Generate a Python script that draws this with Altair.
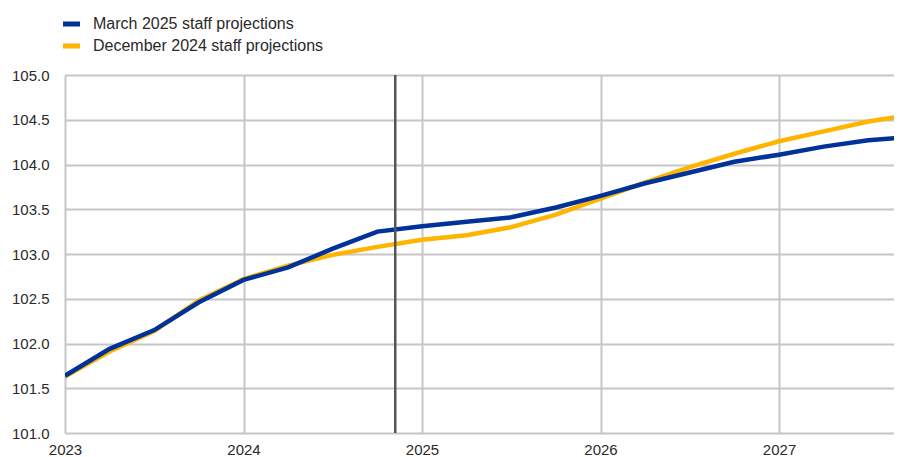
import altair as alt
import pandas as pd

# Quarterly time points (decimal years)
quarters = [2023.00, 2023.25, 2023.50, 2023.75,
            2024.00, 2024.25, 2024.50, 2024.75,
            2025.00, 2025.25, 2025.50, 2025.75,
            2026.00, 2026.25, 2026.50, 2026.75,
            2027.00, 2027.25, 2027.50, 2027.75]

march_2025 = [101.64, 101.94, 102.15, 102.46,
              102.71, 102.85, 103.06, 103.25,
              103.31, 103.36, 103.41, 103.52,
              103.65, 103.79, 103.91, 104.03,
              104.11, 104.20, 104.27, 104.31]

december_2024 = [101.63, 101.91, 102.14, 102.48,
                 102.72, 102.87, 102.99, 103.08,
                 103.16, 103.21, 103.30, 103.44,
                 103.62, 103.80, 103.97, 104.12,
                 104.26, 104.37, 104.48, 104.56]

series_names = ["March 2025 staff projections", "December 2024 staff projections"]
series_colors = ["#003299", "#FFB400"]

vline_x = [2024.85]

x_ticks = [2023, 2024, 2025, 2026, 2027]
y_ticks = [101.0, 101.5, 102.0, 102.5, 103.0, 103.5, 104.0, 104.5, 105.0]

rows = []
for q, v in zip(quarters, december_2024):
    rows.append({"date": q, "value": v, "series": series_names[1], "order": 0})
for q, v in zip(quarters, march_2025):
    rows.append({"date": q, "value": v, "series": series_names[0], "order": 1})
df = pd.DataFrame(rows)

FONT = "Liberation Sans"

x_enc = alt.X(
    "date:Q",
    scale=alt.Scale(domain=[2023, 2027.644], nice=False, zero=False),
    axis=alt.Axis(values=x_ticks, format="d", title=None, grid=True,
                  ticks=False, domain=False, labelPadding=9,
                  labelFontSize=15, labelFont=FONT, labelColor="#2a2a2a",
                  gridColor="#c6c6c6", gridWidth=2, labelFlush=False),
)
y_enc = alt.Y(
    "value:Q",
    scale=alt.Scale(domain=[101, 105], nice=False, zero=False),
    axis=alt.Axis(values=y_ticks, format=".1f", title=None, grid=True,
                  ticks=False, domain=False, labelPadding=16,
                  labelFontSize=15, labelFont=FONT, labelColor="#2a2a2a",
                  gridColor="#c6c6c6", gridWidth=2),
)

lines = alt.Chart(df).mark_line(strokeWidth=4.5, clip=True).encode(
    x=x_enc,
    y=y_enc,
    color=alt.Color(
        "series:N",
        scale=alt.Scale(domain=series_names, range=series_colors),
        legend=alt.Legend(
            title=None, orient="none", legendX=-4.5, legendY=-62,
            symbolType="stroke", symbolStrokeWidth=5, symbolSize=289,
            labelFontSize=16, labelFont=FONT, labelColor="#2a2a2a",
            labelOffset=10.5, rowPadding=1, padding=0, labelLimit=600,
            direction="vertical",
        ),
    ),
    detail="series:N",
    order=alt.Order("order:Q"),
)

rule = alt.Chart(pd.DataFrame({"x": vline_x})).mark_rule(
    color="#555555", strokeWidth=2.5
).encode(x=alt.X("x:Q"))

chart = alt.layer(lines, rule).properties(
    width=829,
    height=358,
    padding={"left": 57, "top": 67, "right": 0, "bottom": 24},
    autosize=alt.AutoSizeParams(type="none"),
    background="white",
).configure_view(stroke=None)

chart.save("out.html", embed_options={"renderer": "svg", "actions": False})
